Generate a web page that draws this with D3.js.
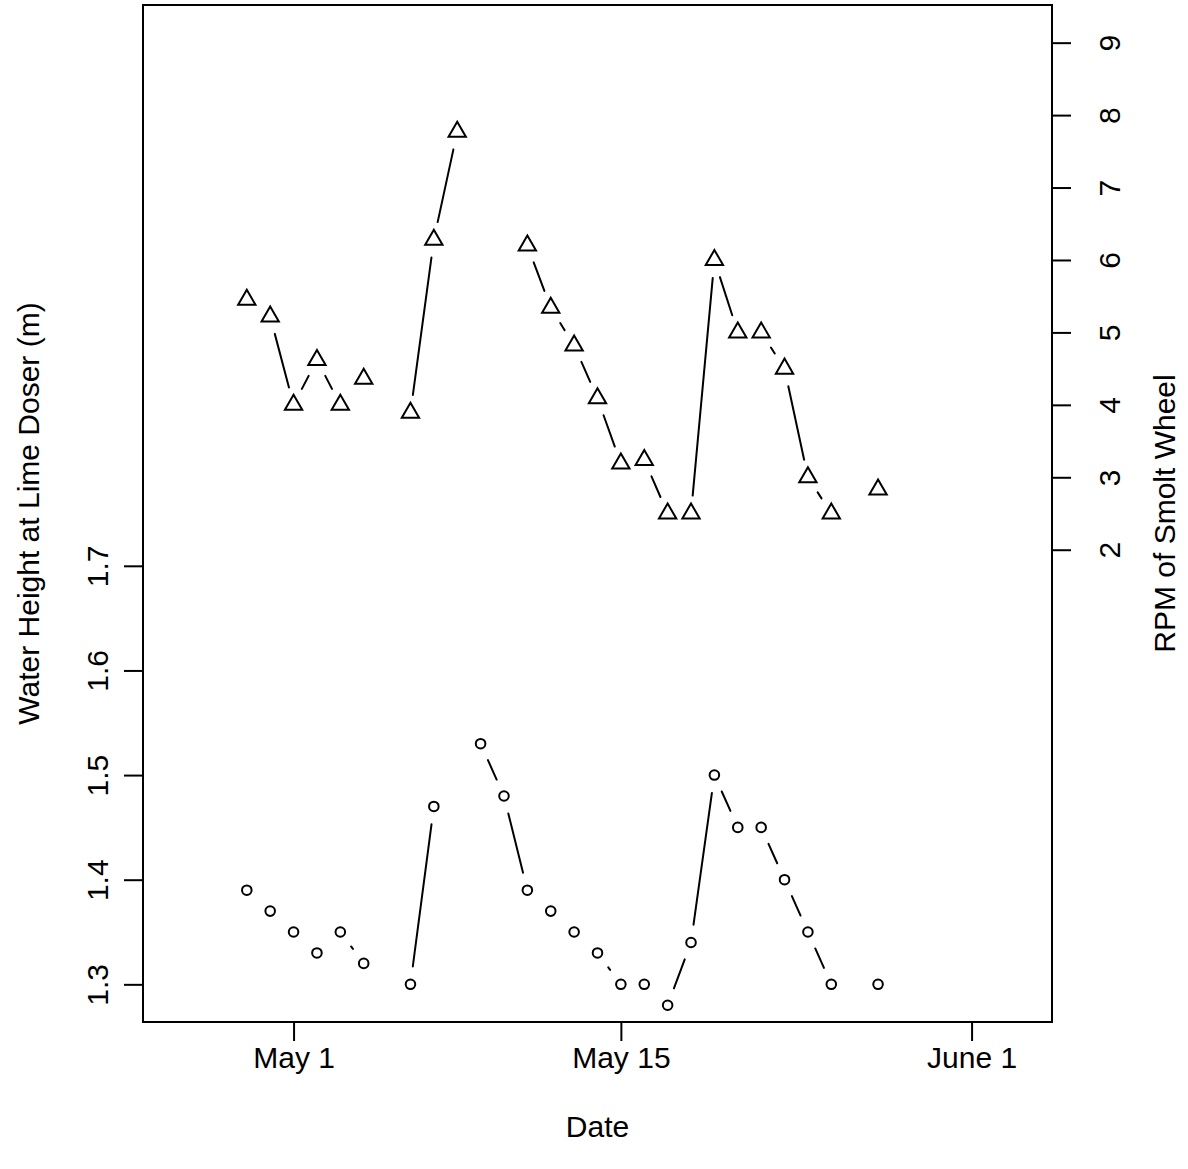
<!DOCTYPE html>
<html>
<head>
<meta charset="utf-8">
<script src="https://cdn.jsdelivr.net/npm/d3@7"></script>
<style>
body { margin: 0; background: #fff; }
text { font-family: "Liberation Sans", Arial, sans-serif; font-size: 30px; fill: #000; }
</style>
</head>
<body>
<div id="chart"></div>
<script>
// days counted from May 1 (0 = May 1), null = no reading
var days = [-2, -1, 0, 1, 2, 3, 4, 5, 6, 7, 8, 9, 10, 11, 12, 13, 14, 15, 16, 17, 18, 19, 20, 21, 22, 23, 24, 25];
var waterHeight = [1.39, 1.37, 1.35, 1.33, 1.35, 1.32, null, 1.30, 1.47, null, 1.53, 1.48, 1.39, 1.37,
    1.35, 1.33, 1.30, 1.30, 1.28, 1.34, 1.50, 1.45, 1.45, 1.40, 1.35, 1.30, null, 1.30];
var rpm = [5.45, 5.22, 4.0, 4.62, 4.0, 4.36, null, 3.89, 6.28, 7.77, null, null, 6.2, 5.34,
    4.82, 4.09, 3.19, 3.24, 2.5, 2.5, 6.0, 5.0, 5.0, 4.5, 3.0, 2.5, null, 2.83];
var dateTicks = [0, 14, 29];
var dateLabels = ['May 1', 'May 15', 'June 1'];
var heightTicks = [1.3, 1.4, 1.5, 1.6, 1.7];
var rpmTicks = [2, 3, 4, 5, 6, 7, 8, 9];

var width = 1188, height = 1169;
var box = {left: 143, right: 1052, top: 5, bottom: 1022};
var gap = 18;   // type="b" style gap around each point

var svg = d3.select('#chart')
    .append('svg')
    .attr('width', width)
    .attr('height', height)
    .style('background', '#fff');

var x = d3.scaleLinear().domain([-6.44, 32.44]).range([box.left, box.right]);
var yLeft = d3.scaleLinear().domain([1.264, 2.236]).range([box.bottom, box.top]);
var yRight = d3.scaleLinear().domain([-4.52, 9.52]).range([box.bottom, box.top]);

// axes
var xAxis = svg.append('g')
    .attr('transform', 'translate(0,' + box.bottom + ')')
    .call(d3.axisBottom(x).tickValues(dateTicks)
        .tickFormat(function(d, i) { return dateLabels[i]; })
        .tickSize(19).tickSizeOuter(0));
xAxis.selectAll('text').attr('y', 46).attr('dy', 0);

var leftAxis = svg.append('g')
    .attr('transform', 'translate(' + box.left + ',0)')
    .call(d3.axisLeft(yLeft).tickValues(heightTicks).tickFormat(d3.format('.1f'))
        .tickSize(19).tickSizeOuter(0));
leftAxis.selectAll('text')
    .attr('transform', 'rotate(-90)')
    .attr('x', 0).attr('y', -35).attr('dy', 0)
    .attr('text-anchor', 'middle');

var rightAxis = svg.append('g')
    .attr('transform', 'translate(' + box.right + ',0)')
    .call(d3.axisRight(yRight).tickValues(rpmTicks).tickFormat(d3.format('d'))
        .tickSize(19).tickSizeOuter(0));
rightAxis.selectAll('text')
    .attr('transform', 'rotate(-90)')
    .attr('x', 0).attr('y', 68).attr('dy', 0)
    .attr('text-anchor', 'middle');

svg.selectAll('.domain').remove();
svg.selectAll('.tick line').attr('stroke', '#000').attr('stroke-width', 2);

// plot box
svg.append('rect')
    .attr('x', box.left).attr('y', box.top)
    .attr('width', box.right - box.left).attr('height', box.bottom - box.top)
    .attr('fill', 'none').attr('stroke', '#000').attr('stroke-width', 2);

// titles
var midY = (box.top + box.bottom) / 2;
svg.append('text').attr('x', (box.left + box.right) / 2).attr('y', 1137)
    .attr('text-anchor', 'middle').text('Date');
svg.append('text').attr('transform', 'translate(39,' + midY + ') rotate(-90)')
    .attr('text-anchor', 'middle').text('Water Height at Lime Doser (m)');
svg.append('text').attr('transform', 'translate(1175,' + midY + ') rotate(-90)')
    .attr('text-anchor', 'middle').text('RPM of Smolt Wheel');

// line pieces between neighbouring readings, cut back near each symbol
function gappedSegments(values, yScale) {
    var pts = days.map(function(d, i) {
        return values[i] == null ? null : [x(d), yScale(values[i])];
    });
    var segs = [];
    for (var i = 1; i < pts.length; i++) {
        var p = pts[i - 1], c = pts[i];
        if (!p || !c) continue;
        var dx = c[0] - p[0], dy = c[1] - p[1], len = Math.hypot(dx, dy);
        if (len > 2 * gap) {
            var f = gap / len;
            segs.push([p[0] + f * dx, p[1] + f * dy, c[0] - f * dx, c[1] - f * dy]);
        }
    }
    return segs;
}

function drawSeries(values, yScale, symbolType, size) {
    var g = svg.append('g');
    g.selectAll('line')
        .data(gappedSegments(values, yScale))
        .enter().append('line')
            .attr('x1', function(s) { return s[0]; })
            .attr('y1', function(s) { return s[1]; })
            .attr('x2', function(s) { return s[2]; })
            .attr('y2', function(s) { return s[3]; })
            .attr('stroke', '#000')
            .attr('stroke-width', 2)
            .attr('stroke-linecap', 'round');
    g.selectAll('path')
        .data(days.filter(function(d, i) { return values[i] != null; }))
        .enter().append('path')
            .attr('d', d3.symbol().type(symbolType).size(size))
            .attr('transform', function(d) {
                return 'translate(' + x(d) + ',' + yScale(values[days.indexOf(d)]) + ')';
            })
            .attr('fill', 'none')
            .attr('stroke', '#000')
            .attr('stroke-width', 2);
}

drawSeries(waterHeight, yLeft, d3.symbolCircle, 72);
drawSeries(rpm, yRight, d3.symbolTriangle, 130);
</script>
</body>
</html>
